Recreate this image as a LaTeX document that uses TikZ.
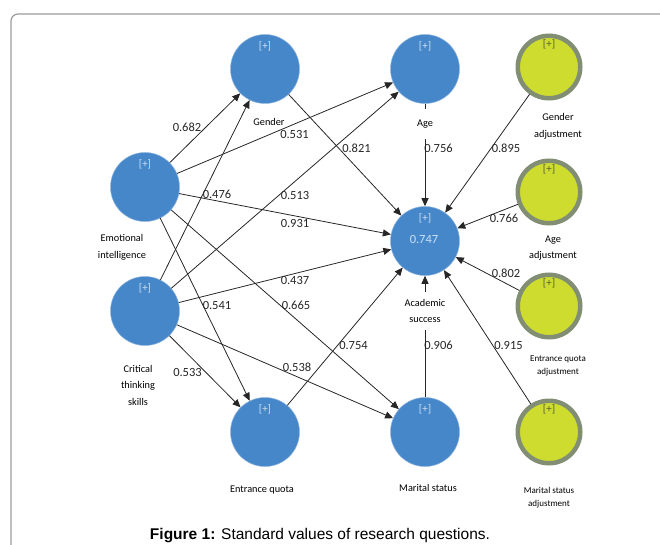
\documentclass[tikz,border=0pt]{standalone}
\usepackage{fontspec}
\setmainfont{Carlito}
\newfontfamily\capfont{Liberation Sans}
\usetikzlibrary{arrows.meta,positioning}
\definecolor{lvblue}{RGB}{70,135,202}
\definecolor{adjyellow}{RGB}{206,220,48}
\definecolor{adjrim}{RGB}{130,142,115}
\definecolor{plusblue}{RGB}{205,225,245}
\definecolor{plusolive}{RGB}{85,95,55}
\definecolor{frameg}{RGB}{155,155,155}

\tikzset{
  lv/.style={circle,fill=lvblue,draw=lvblue!60!white,line width=0.5pt,minimum size=69pt,inner sep=0pt},
  adj/.style={circle,fill=adjyellow,draw=adjrim,line width=4.5pt,minimum size=62.5pt,inner sep=0pt},
  plus/.style={font=\fontsize{11}{12}\selectfont,text=plusblue,inner sep=0pt},
  plusadj/.style={plus,text=plusolive},
  lvname/.style={font=\fontsize{10.3}{16.5}\selectfont,align=center,inner sep=1pt},
  smallname/.style={font=\fontsize{9}{13.5}\selectfont,align=center,inner sep=1pt},
  val/.style={font=\fontsize{12.5}{14}\selectfont,text=black!85,inner sep=0pt},
  edge/.style={draw=black!85,line width=0.8pt,-{Triangle[length=8pt,width=7pt]}}
}

\begin{document}
\begin{tikzpicture}[x=1pt,y=-1pt]
\useasboundingbox (0,0) rectangle (660,545);
% open frame round the figure
\draw[frameg,line width=1.2pt,rounded corners=7pt] (11,546) -- (11,14) -- (661,14);

% latent variables
\node[lv] (emo) at (145,187) {};
\node[lv] (crit) at (145,311) {};
\node[lv] (gender) at (265,69) {};
\node[lv] (quota) at (265,432) {};
\node[lv] (age) at (425,69) {};
\node[lv] (acad) at (425,241) {};
\node[lv] (marital) at (425,432) {};
% moderating adjustments
\node[adj] (genadj) at (549,67) {};
\node[adj] (ageadj) at (549,192) {};
\node[adj] (quotaadj) at (549,306) {};
\node[adj] (maritaladj) at (549,432) {};

% [+] marks
\node[plus,below=7pt of emo.north] (emop) {[+]};
\node[plus,below=7pt of crit.north] (critp) {[+]};
\node[plus,below=7pt of gender.north] (genderp) {[+]};
\node[plus,below=7pt of quota.north] (quotap) {[+]};
\node[plus,below=7pt of age.north] (agep) {[+]};
\node[plus,below=7pt of acad.north] (acadp) {[+]};
\node[plus,below=7pt of marital.north] (maritalp) {[+]};
\node[plusadj,below=5.5pt of genadj.north] (genadjp) {[+]};
\node[plusadj,below=5.5pt of ageadj.north] (ageadjp) {[+]};
\node[plusadj,below=5.5pt of quotaadj.north] (quotaadjp) {[+]};
\node[plusadj,below=5.5pt of maritaladj.north] (maritaladjp) {[+]};
\node[font=\fontsize{12.5}{14}\selectfont,text=plusblue] (r2) at (424,239) {0.747};

% names
\node[lvname] (emolbl) at (122,247.5) {Emotional\\intelligence};
\node[lvname] (critlbl) at (138,385) {Critical\\thinking\\skills};
\node[lvname] (genderlbl) at (269,122) {Gender};
\node[lvname] (quotalbl) at (262,490) {Entrance quota};
\node[lvname,inner ysep=11pt] (agelbl) at (425,124) {Age};
\node[lvname,inner ysep=7pt] (acadlbl) at (425,311) {Academic\\success};
\node[lvname] (maritallbl) at (428,488) {Marital status};
\node[lvname] (genadjlbl) at (558,126.5) {Gender\\adjustment};
\node[lvname] (ageadjlbl) at (553,248) {Age\\adjustment};
\node[smallname] (quotaadjlbl) at (558,366) {Entrance quota\\adjustment};
\node[smallname] (maritaladjlbl) at (549,497.5) {Marital status\\adjustment};

% paths
\draw[edge] (emo) -- (gender);
\draw[edge] (crit) -- (gender);
\draw[edge] (emo) -- (age);
\draw[edge] (crit) -- (age);
\draw[edge] (emo) -- (acad);
\draw[edge] (crit) -- (acad);
\draw[edge] (emo) -- (quota);
\draw[edge] (crit) -- (quota);
\draw[edge] (emo) -- (marital);
\draw[edge] (crit) -- (marital);
\draw[edge] (gender) -- (acad);
\draw[edge,-] (age) -- (agelbl);
\draw[edge] (agelbl) -- (acad);
\draw[edge] (quota) -- (acad);
\draw[edge,-] (marital) -- (acadlbl);
\draw[edge] (acadlbl) -- (acad);
\draw[edge] (genadj) -- (acad);
\draw[edge] (ageadj) -- (acad);
\draw[edge] (quotaadj) -- (acad);
\draw[edge] (maritaladj) -- (acad);

% path coefficients
\node[val] (c682) at (187,127) {0.682};
\node[val] (c531) at (294.5,134) {0.531};
\node[val] (c821) at (356.5,148.5) {0.821};
\node[val] (c476) at (217,194) {0.476};
\node[val] (c513) at (295,195.5) {0.513};
\node[val] (c931) at (295,223) {0.931};
\node[val] (c437) at (295,280) {0.437};
\node[val] (c541) at (217,305) {0.541};
\node[val] (c665) at (296,305) {0.665};
\node[val] (c754) at (353.5,345.5) {0.754};
\node[val] (c538) at (297,367) {0.538};
\node[val] (c533) at (187.5,372) {0.533};
\node[val] (c756) at (438.5,148.5) {0.756};
\node[val] (c895) at (506,148.5) {0.895};
\node[val] (c766) at (504,218) {0.766};
\node[val] (c802) at (506,273) {0.802};
\node[val] (c915) at (508.5,345) {0.915};
\node[val] (c906) at (438.5,345) {0.906};

% caption
\node[font=\capfont\fontsize{15.5}{18}\selectfont] (caption) at (320,536) {\textbf{Figure 1:} Standard values of research questions.};
\end{tikzpicture}
\end{document}
